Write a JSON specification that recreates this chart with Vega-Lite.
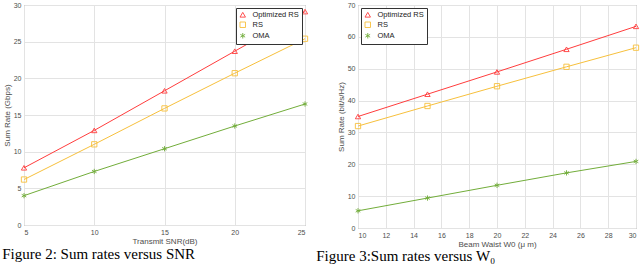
{
  "$schema": "https://vega.github.io/schema/vega-lite/v6.json",
  "padding": {"left": 1, "top": 0, "right": 0, "bottom": 0},
  "background": "white",
  "spacing": 53,
  "bounds": "flush",
  "datasets": {
    "snr": [
      {"x": 5, "series": "Optimized RS", "y": 7.8},
      {"x": 10, "series": "Optimized RS", "y": 12.9},
      {"x": 15, "series": "Optimized RS", "y": 18.3},
      {"x": 20, "series": "Optimized RS", "y": 23.7},
      {"x": 25, "series": "Optimized RS", "y": 29.1},
      {"x": 5, "series": "RS", "y": 6.2},
      {"x": 10, "series": "RS", "y": 11.0},
      {"x": 15, "series": "RS", "y": 15.9},
      {"x": 20, "series": "RS", "y": 20.7},
      {"x": 25, "series": "RS", "y": 25.4},
      {"x": 5, "series": "OMA", "y": 4.0},
      {"x": 10, "series": "OMA", "y": 7.3},
      {"x": 15, "series": "OMA", "y": 10.4},
      {"x": 20, "series": "OMA", "y": 13.5},
      {"x": 25, "series": "OMA", "y": 16.5}
    ],
    "w0": [
      {"x": 10, "series": "Optimized RS", "y": 35.0},
      {"x": 15, "series": "Optimized RS", "y": 42.0},
      {"x": 20, "series": "Optimized RS", "y": 49.0},
      {"x": 25, "series": "Optimized RS", "y": 56.1},
      {"x": 30, "series": "Optimized RS", "y": 63.3},
      {"x": 10, "series": "RS", "y": 32.0},
      {"x": 15, "series": "RS", "y": 38.3},
      {"x": 20, "series": "RS", "y": 44.5},
      {"x": 25, "series": "RS", "y": 50.6},
      {"x": 30, "series": "RS", "y": 56.6},
      {"x": 10, "series": "OMA", "y": 5.4},
      {"x": 15, "series": "OMA", "y": 9.4},
      {"x": 20, "series": "OMA", "y": 13.4},
      {"x": 25, "series": "OMA", "y": 17.3},
      {"x": 30, "series": "OMA", "y": 20.9}
    ]
  },
  "config": {
    "font": "Liberation Sans",
    "view": {"stroke": "#8a8a8a", "strokeWidth": 1},
    "axis": {
      "domain": false,
      "ticks": false,
      "labelOverlap": false,
      "gridColor": "#e3e3e3",
      "gridWidth": 1,
      "labelFontSize": 7,
      "labelColor": "#4d4d4d",
      "titleFontSize": 8,
      "titleFontWeight": "normal",
      "titleColor": "#4d4d4d",
      "labelPadding": 3,
      "titlePadding": 2
    },
    "legend": {
      "title": null,
      "strokeColor": "#333333",
      "fillColor": "white",
      "padding": 3,
      "labelFontSize": 7.5,
      "labelColor": "#222222",
      "symbolSize": 30,
      "rowPadding": 1,
      "labelOffset": 6,
      "symbolStrokeWidth": 0.9,
      "symbolFillColor": "transparent",
      "cornerRadius": 0
    },
    "title": {
      "font": "Liberation Serif",
      "fontSize": 15,
      "fontWeight": "normal",
      "color": "black",
      "orient": "bottom",
      "anchor": "start",
      "frame": "bounds"
    }
  },
  "hconcat": [
    {
      "width": 281,
      "height": 220,
      "title": {"text": "Figure 2: Sum rates versus SNR", "offset": 2, "dx": -1},
      "data": {"name": "snr"},
      "transform": [{"calculate": "datum.series", "as": "marker"}],
      "encoding": {
        "x": {"field": "x", "type": "quantitative", "scale": {"domain": [5, 25], "nice": false}, "axis": {"values": [5, 10, 15, 20, 25], "title": "Transmit SNR(dB)"}},
        "y": {"field": "y", "type": "quantitative", "scale": {"domain": [0, 30], "nice": false}, "axis": {"values": [0, 5, 10, 15, 20, 25, 30], "title": "Sum Rate (Gbps)"}},
        "color": {
          "field": "series", "type": "nominal",
          "scale": {"domain": ["Optimized RS", "RS", "OMA"], "range": ["#ff3d3d", "#f7c03c", "#72ad3a"]},
          "legend": {"orient": "top-right", "offset": 3}
        }
      },
      "layer": [
        {"mark": {"type": "line", "strokeWidth": 1}},
        {
          "mark": {"type": "point", "filled": false, "size": 28, "strokeWidth": 0.9, "opacity": 1},
          "encoding": {
            "shape": {"field": "marker", "type": "nominal", "scale": {"domain": ["Optimized RS", "RS", "OMA"], "range": ["triangle-up", "square", "M0,-1V1M-0.87,-0.5L0.87,0.5M-0.87,0.5L0.87,-0.5"]}, "legend": null}
          }
        }
      ]
    },
    {
      "width": 278,
      "height": 223,
      "title": {"text": "Figure 3:Sum rates versus W₀", "offset": 1, "dx": -21},
      "data": {"name": "w0"},
      "transform": [{"calculate": "datum.series", "as": "marker"}],
      "encoding": {
        "x": {"field": "x", "type": "quantitative", "scale": {"domain": [10, 30], "nice": false}, "axis": {"values": [10, 12, 14, 16, 18, 20, 22, 24, 26, 28, 30], "title": "Beam Waist W0 (μ m)"}},
        "y": {"field": "y", "type": "quantitative", "scale": {"domain": [0, 70], "nice": false}, "axis": {"values": [0, 10, 20, 30, 40, 50, 60, 70], "title": "Sum Rate (bit/s/Hz)"}},
        "color": {
          "field": "series", "type": "nominal",
          "scale": {"domain": ["Optimized RS", "RS", "OMA"], "range": ["#ff3d3d", "#f7c03c", "#72ad3a"]},
          "legend": {"orient": "top-left", "offset": 3}
        }
      },
      "layer": [
        {"mark": {"type": "line", "strokeWidth": 1}},
        {
          "mark": {"type": "point", "filled": false, "size": 28, "strokeWidth": 0.9, "opacity": 1},
          "encoding": {
            "shape": {"field": "marker", "type": "nominal", "scale": {"domain": ["Optimized RS", "RS", "OMA"], "range": ["triangle-up", "square", "M0,-1V1M-0.87,-0.5L0.87,0.5M-0.87,0.5L0.87,-0.5"]}, "legend": null}
          }
        }
      ]
    }
  ],
  "resolve": {"scale": {"color": "independent", "shape": "independent"}}
}
